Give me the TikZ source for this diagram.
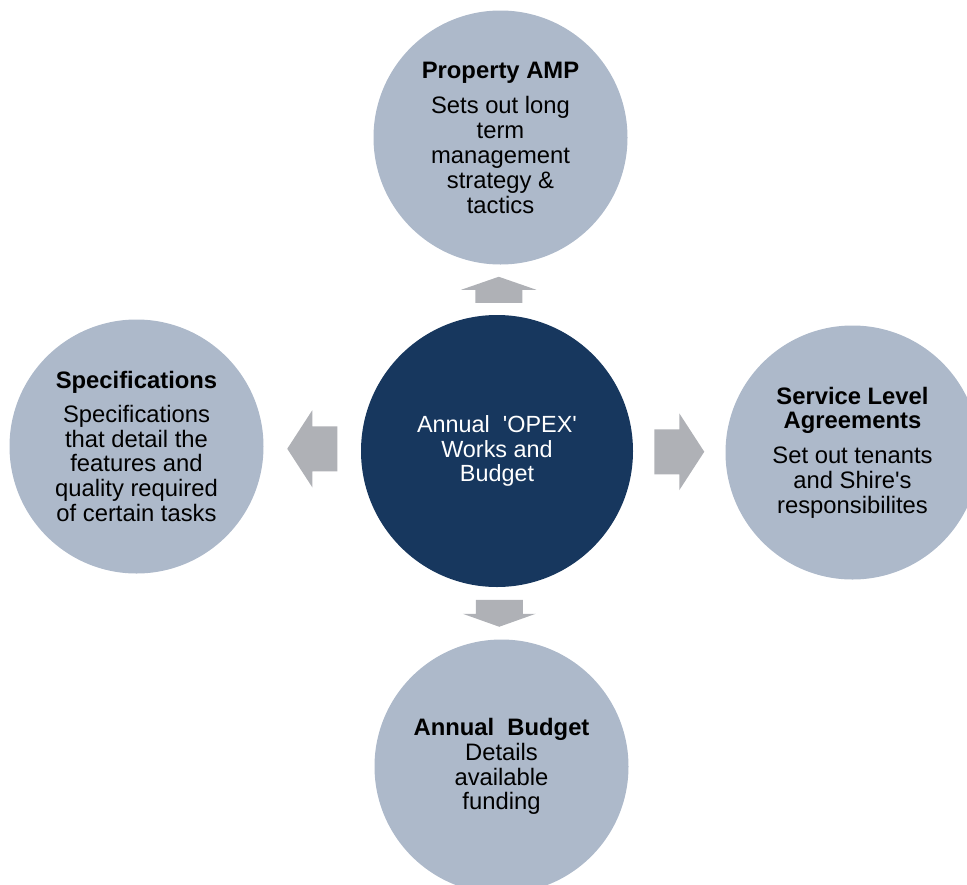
\documentclass[tikz,border=0pt]{standalone}
\usepackage{fontspec}
\setmainfont{Liberation Sans}[Ligatures=TeXOff]
\usetikzlibrary{calc}

\definecolor{discfill}{HTML}{ADB9CA}
\definecolor{hubblue}{HTML}{17375E}
\definecolor{arrowgrey}{HTML}{AFB1B6}

\tikzset{
  x=1pt, y=-1pt,
  topic/.style={circle, fill=discfill, minimum size=254pt, inner sep=0pt,
    align=center, text=black, font=\fontsize{23.8}{24.8}\selectfont},
  hubdisc/.style={circle, fill=hubblue, minimum size=272pt, inner sep=0pt,
    align=center, text=white, font=\fontsize{23.4}{24.2}\selectfont},
  arrowfill/.style={fill=arrowgrey, draw=none},
}

% block arrow centred on #1, pointing at angle #2;
% #3 half length, #4 head length, #5 half head width, #6 half shaft width
\newcommand\BlockArrow[6]{%
  \fill[arrowfill, shift={(#1)}, rotate=#2]
    (-#3,-#6) -- ({#3-#4},-#6) -- ({#3-#4},-#5) -- (#3,0)
    -- ({#3-#4},#5) -- ({#3-#4},#6) -- (-#3,#6) -- cycle;}

\begin{document}
\begin{tikzpicture}
  \useasboundingbox (0,0) rectangle (967,884);
  \clip (0,0) rectangle (967,884);

  % central hub
  \node[hubdisc] (hub) at (497,451)
    {Annual\ \ 'OPEX'\\Works and\\Budget};

  % surrounding topics
  \node[topic] (amp) at (500.5,137.5)
    {\textbf{Property AMP}\\[11pt]Sets out long\\term\\management\\strategy \&\\tactics};
  \node[topic] (spec) at (136.5,446.5)
    {\textbf{Specifications}\\[9pt]Specifications\\that detail the\\features and\\quality required\\of certain tasks};
  \node[topic] (sla) at (852.5,452.5)
    {\textbf{Service Level}\\\textbf{Agreements}\\[10pt]Set out tenants\\and Shire's\\responsibilites};
  \node[topic] (budget) at (501.5,766.5)
    {\textbf{Annual\ \ Budget}\\Details\\available\\funding};

  % arrow positions halfway across each gap
  \coordinate (toAmp)    at ($(hub.north)!0.5!(amp.south)$);
  \coordinate (toSpec)   at ($(hub.west)!0.5!(spec.east)$);
  \coordinate (toSla)    at ($(hub.east)!0.5!(sla.west)$);
  \coordinate (toBudget) at ($(hub.south)!0.5!(budget.north)$);

  \BlockArrow{toAmp}{90}{13}{13}{37.5}{23.5}
  \BlockArrow{toBudget}{-90}{13.5}{13}{36.5}{23.5}
  \BlockArrow{toSpec}{180}{25}{25}{38.5}{22.5}
  \BlockArrow{toSla}{0}{25}{25}{38.5}{22.5}
\end{tikzpicture}
\end{document}
